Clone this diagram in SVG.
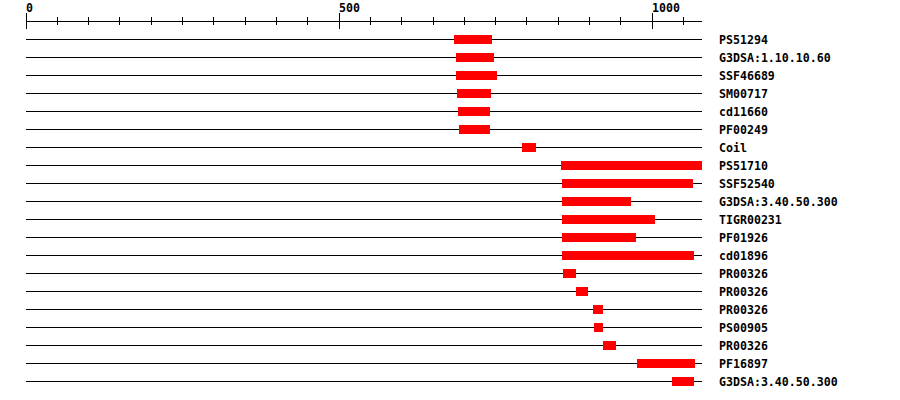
<svg xmlns="http://www.w3.org/2000/svg" width="900" height="400" viewBox="0 0 900 400">
<style>
.ln{stroke:#000;stroke-width:1;fill:none;shape-rendering:crispEdges}
.bar{fill:#FF0000;shape-rendering:crispEdges}
.lb{font-family:"DejaVu Sans Mono","Liberation Mono",monospace;font-weight:bold;font-size:11.6px;fill:#000}
</style>
<rect width="900" height="400" fill="#fff"/>
<g id="axis">
<line class="ln" x1="26" y1="21.5" x2="702" y2="21.5"/>
<path class="ln" d="M26.5 13V29M339.5 13V29M652.5 13V29M57.5 17V25M88.5 17V25M119.5 17V25M151.5 17V25M182.5 17V25M213.5 17V25M245.5 17V25M276.5 17V25M307.5 17V25M370.5 17V25M401.5 17V25M433.5 17V25M464.5 17V25M495.5 17V25M526.5 17V25M558.5 17V25M589.5 17V25M620.5 17V25M683.5 17V25"/>
<text class="lb" x="26" y="12">0</text>
<text class="lb" x="339" y="12">500</text>
<text class="lb" x="652" y="12">1000</text>
</g>
<g id="r1"><line class="ln" x1="26" y1="39.5" x2="702" y2="39.5"/><rect class="bar" x="454" y="35" width="38" height="9"/><text class="lb" x="719" y="44">PS51294</text></g>
<g id="r2"><line class="ln" x1="26" y1="57.5" x2="702" y2="57.5"/><rect class="bar" x="456" y="53" width="38" height="9"/><text class="lb" x="719" y="62">G3DSA:1.10.10.60</text></g>
<g id="r3"><line class="ln" x1="26" y1="75.5" x2="702" y2="75.5"/><rect class="bar" x="456" y="71" width="41" height="9"/><text class="lb" x="719" y="80">SSF46689</text></g>
<g id="r4"><line class="ln" x1="26" y1="93.5" x2="702" y2="93.5"/><rect class="bar" x="457" y="89" width="34" height="9"/><text class="lb" x="719" y="98">SM00717</text></g>
<g id="r5"><line class="ln" x1="26" y1="111.5" x2="702" y2="111.5"/><rect class="bar" x="458" y="107" width="32" height="9"/><text class="lb" x="719" y="116">cd11660</text></g>
<g id="r6"><line class="ln" x1="26" y1="129.5" x2="702" y2="129.5"/><rect class="bar" x="459" y="125" width="31" height="9"/><text class="lb" x="719" y="134">PF00249</text></g>
<g id="r7"><line class="ln" x1="26" y1="147.5" x2="702" y2="147.5"/><rect class="bar" x="522" y="143" width="14" height="9"/><text class="lb" x="719" y="152">Coil</text></g>
<g id="r8"><line class="ln" x1="26" y1="165.5" x2="702" y2="165.5"/><rect class="bar" x="561" y="161" width="141" height="9"/><text class="lb" x="719" y="170">PS51710</text></g>
<g id="r9"><line class="ln" x1="26" y1="183.5" x2="702" y2="183.5"/><rect class="bar" x="562" y="179" width="131" height="9"/><text class="lb" x="719" y="188">SSF52540</text></g>
<g id="r10"><line class="ln" x1="26" y1="201.5" x2="702" y2="201.5"/><rect class="bar" x="562" y="197" width="69" height="9"/><text class="lb" x="719" y="206">G3DSA:3.40.50.300</text></g>
<g id="r11"><line class="ln" x1="26" y1="219.5" x2="702" y2="219.5"/><rect class="bar" x="562" y="215" width="93" height="9"/><text class="lb" x="719" y="224">TIGR00231</text></g>
<g id="r12"><line class="ln" x1="26" y1="237.5" x2="702" y2="237.5"/><rect class="bar" x="562" y="233" width="74" height="9"/><text class="lb" x="719" y="242">PF01926</text></g>
<g id="r13"><line class="ln" x1="26" y1="255.5" x2="702" y2="255.5"/><rect class="bar" x="562" y="251" width="132" height="9"/><text class="lb" x="719" y="260">cd01896</text></g>
<g id="r14"><line class="ln" x1="26" y1="273.5" x2="702" y2="273.5"/><rect class="bar" x="563" y="269" width="13" height="9"/><text class="lb" x="719" y="278">PR00326</text></g>
<g id="r15"><line class="ln" x1="26" y1="291.5" x2="702" y2="291.5"/><rect class="bar" x="576" y="287" width="12" height="9"/><text class="lb" x="719" y="296">PR00326</text></g>
<g id="r16"><line class="ln" x1="26" y1="309.5" x2="702" y2="309.5"/><rect class="bar" x="593" y="305" width="10" height="9"/><text class="lb" x="719" y="314">PR00326</text></g>
<g id="r17"><line class="ln" x1="26" y1="327.5" x2="702" y2="327.5"/><rect class="bar" x="594" y="323" width="9" height="9"/><text class="lb" x="719" y="332">PS00905</text></g>
<g id="r18"><line class="ln" x1="26" y1="345.5" x2="702" y2="345.5"/><rect class="bar" x="603" y="341" width="13" height="9"/><text class="lb" x="719" y="350">PR00326</text></g>
<g id="r19"><line class="ln" x1="26" y1="363.5" x2="702" y2="363.5"/><rect class="bar" x="637" y="359" width="58" height="9"/><text class="lb" x="719" y="368">PF16897</text></g>
<g id="r20"><line class="ln" x1="26" y1="381.5" x2="702" y2="381.5"/><rect class="bar" x="672" y="377" width="22" height="9"/><text class="lb" x="719" y="386">G3DSA:3.40.50.300</text></g>
</svg>
